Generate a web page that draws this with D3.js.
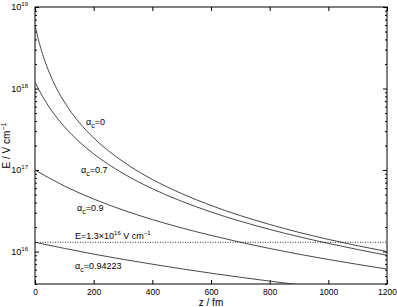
<!DOCTYPE html>
<html>
<head>
<meta charset="utf-8">
<script src="https://cdn.jsdelivr.net/npm/d3@7"></script>
<style>
  body { margin: 0; background: #fff; }
  svg { font-family: "Liberation Sans", Arial, sans-serif; }
</style>
</head>
<body>
<div id="chart"></div>
<script>
(function()
{
    var width = 397;
    var height = 307;

    // values, E in V/cm, z in fm
    var zA0 = [0, 10, 20, 30, 50, 75, 100, 150, 200, 300, 400, 500, 600, 800, 1000, 1200];
    var eA0 = [6.0e18, 4.19e18, 3.09e18, 2.38e18, 1.53e18, 9.8e17, 6.84e17, 3.86e17, 2.48e17,
               1.27e17, 7.67e16, 5.14e16, 3.68e16, 2.15e16, 1.41e16, 1.0e16];

    var zA07 = [0, 25, 50, 100, 150, 200, 300, 400, 500, 600, 800, 1000, 1200];
    var eA07 = [1.2e18, 8.07e17, 5.8e17, 3.41e17, 2.24e17, 1.58e17, 9.1e16, 5.9e16, 4.14e16,
                3.06e16, 1.87e16, 1.26e16, 9.0e15];

    var zA09 = [0, 100, 200, 300, 400, 500, 600, 800, 1000, 1200];
    var eA09 = [1.0e17, 6.37e16, 4.41e16, 3.23e16, 2.47e16, 1.95e16, 1.58e16, 1.09e16, 8.0e15, 6.1e15];

    var zA094 = [0, 200, 400, 600, 800, 1000, 1200];
    var eA094 = [1.3e16, 9.3e15, 7.0e15, 5.43e15, 4.34e15, 3.55e15, 2.96e15];

    var eCrit = 1.3e16;

    var xTicks = [0, 200, 400, 600, 800, 1000, 1200];
    var yDecades = [16, 17, 18, 19];

    var left = 35, right = 387, top = 7, bottom = 284;

    var x = d3.scaleLinear().domain([0, 1200]).range([left, right]);
    var y = d3.scaleLog().domain([4e15, 1e19]).range([bottom, top]);

    var svg = d3.select("#chart")
        .append("svg")
        .attr("width", width)
        .attr("height", height);

    svg.append("defs").append("clipPath").attr("id", "clip")
        .append("rect")
        .attr("x", left).attr("y", top)
        .attr("width", right - left).attr("height", bottom - top);

    // minor ticks for the log axis
    var minor = [];
    for (var d = 15; d <= 18; d++) {
        for (var m = 2; m <= 9; m++) {
            var v = m * Math.pow(10, d);
            if (v >= 4e15 && v <= 1e19) minor.push(v);
        }
    }
    var major = yDecades.map(function(p) { return Math.pow(10, p); });

    function noLabel() { return ""; }

    svg.append("g").attr("transform", "translate(0," + bottom + ")")
        .call(d3.axisBottom(x).tickValues(xTicks).tickSizeInner(-4).tickSizeOuter(0)
            .tickPadding(5).tickFormat(d3.format("d")));
    svg.append("g").attr("transform", "translate(0," + top + ")")
        .call(d3.axisTop(x).tickValues(xTicks).tickSizeInner(-4).tickSizeOuter(0).tickFormat(noLabel));

    svg.append("g").attr("transform", "translate(" + left + ",0)")
        .call(d3.axisLeft(y).tickValues(minor).tickSizeInner(-2).tickSizeOuter(0).tickFormat(noLabel));
    svg.append("g").attr("transform", "translate(" + left + ",0)")
        .call(d3.axisLeft(y).tickValues(major).tickSizeInner(-4).tickSizeOuter(0).tickFormat(noLabel));
    svg.append("g").attr("transform", "translate(" + right + ",0)")
        .call(d3.axisRight(y).tickValues(minor).tickSizeInner(-2).tickSizeOuter(0).tickFormat(noLabel));
    svg.append("g").attr("transform", "translate(" + right + ",0)")
        .call(d3.axisRight(y).tickValues(major).tickSizeInner(-4).tickSizeOuter(0).tickFormat(noLabel));

    svg.selectAll(".domain").remove();
    svg.selectAll(".tick line").attr("stroke", "#000");
    svg.selectAll(".tick text").attr("font-size", 8.5).attr("font-family", "Liberation Sans, Arial, sans-serif").attr("fill", "#000");

    // y tick labels 10^n
    yDecades.forEach(function(p) {
        var t = svg.append("text")
            .attr("x", 28).attr("y", y(Math.pow(10, p)) + 3)
            .attr("text-anchor", "end")
            .attr("font-size", 9);
        t.append("tspan").text("10");
        t.append("tspan").attr("font-size", 6).attr("dy", -4).text(p);
    });

    svg.append("rect")
        .attr("x", left).attr("y", top)
        .attr("width", right - left).attr("height", bottom - top)
        .attr("fill", "none").attr("stroke", "#000").attr("stroke-width", 1);

    var line = d3.line()
        .x(function(d) { return x(d[0]); })
        .y(function(d) { return y(d[1]); })
        .curve(d3.curveMonotoneX);

    var series = [[zA0, eA0], [zA07, eA07], [zA09, eA09], [zA094, eA094]];
    var plot = svg.append("g").attr("clip-path", "url(#clip)");
    plot.selectAll(".curve").data(series)
        .enter().append("path")
        .attr("class", "curve")
        .attr("fill", "none")
        .attr("stroke", "#333")
        .attr("stroke-width", 0.9)
        .attr("d", function(s) {
            return line(s[0].map(function(z, i) { return [z, s[1][i]]; }));
        });

    plot.append("line")
        .attr("x1", x(0)).attr("x2", x(1200))
        .attr("y1", y(eCrit)).attr("y2", y(eCrit))
        .attr("stroke", "#000").attr("stroke-width", 0.8)
        .attr("stroke-dasharray", "1,1.5");

    function alphaLabel(px, py, val) {
        var t = svg.append("text").attr("x", px).attr("y", py).attr("font-size", 9);
        t.append("tspan").text("\u03b1");
        t.append("tspan").attr("font-size", 7).attr("dy", 3).text("c");
        t.append("tspan").attr("dy", -3).text("=" + val);
    }
    alphaLabel(86, 125, "0");
    alphaLabel(81, 173, "0.7");
    alphaLabel(77, 211, "0.9");
    alphaLabel(75, 269, "0.94223");

    var et = svg.append("text").attr("x", 75).attr("y", 239).attr("font-size", 9);
    et.append("tspan").text("E=1.3\u00d710");
    et.append("tspan").attr("font-size", 6).attr("dy", -4).text("16");
    et.append("tspan").attr("dy", 4).text(" V cm");
    et.append("tspan").attr("font-size", 6).attr("dy", -4).text("\u22121");

    svg.append("text")
        .attr("x", (left + right) / 2).attr("y", 306)
        .attr("text-anchor", "middle").attr("font-size", 10)
        .text("z / fm");

    var yl = svg.append("text")
        .attr("transform", "translate(10," + ((top + bottom) / 2) + ") rotate(-90)")
        .attr("text-anchor", "middle").attr("font-size", 10);
    yl.append("tspan").text("E / V cm");
    yl.append("tspan").attr("font-size", 7).attr("dy", -4).text("\u22121");
})();
</script>
</body>
</html>
